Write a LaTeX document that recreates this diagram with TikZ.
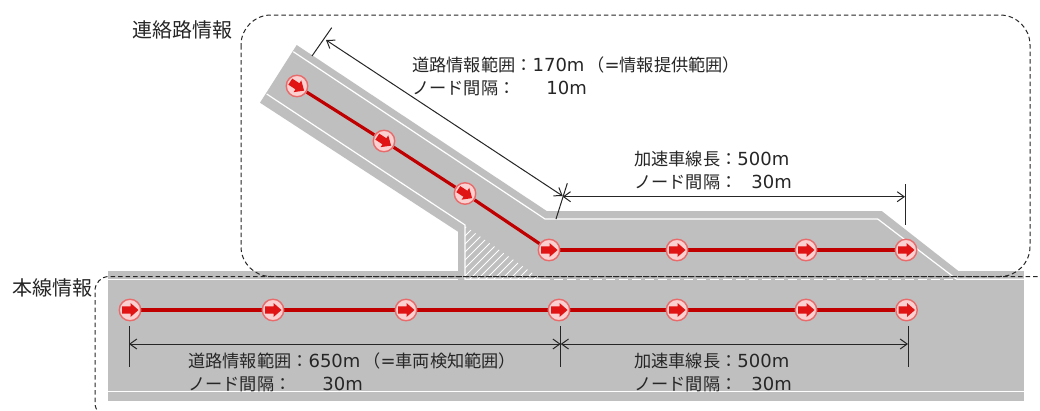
\documentclass[tikz,border=0pt]{standalone}
\usepackage{fontspec}
\setmainfont{Noto Sans CJK JP}
\newfontfamily\latinfont{DejaVu Sans}
\usetikzlibrary{arrows.meta}
\pgfdeclarelayer{baselayer}
\pgfdeclarelayer{midlayer}
\pgfsetlayers{baselayer,midlayer,main}
\definecolor{roadgray}{HTML}{BFBFBF}
\definecolor{dimink}{HTML}{262626}
\definecolor{lineRed}{HTML}{C00000}
\definecolor{ringRed}{HTML}{E96A6A}
\definecolor{ringPink}{HTML}{FBD0D0}
\definecolor{arrowRed}{HTML}{E01414}
\newcommand{\lat}[1]{{\latinfont\fontsize{18pt}{23pt}\selectfont #1}}
\newcommand{\zcolon}{\char"FF1A\relax}
\newcommand{\zlp}{\char"FF08\relax}
\newcommand{\zrp}{\char"FF09\relax}
\tikzset{
  x=1pt,y=-1pt,
  road/.style={fill=roadgray,draw=none},
  edge line/.style={draw=white,line width=1.2pt},
  edge dash/.style={draw=white,line width=1.2pt,dash pattern=on 9pt off 4pt},
  region/.style={draw=black!85,line width=1pt,dash pattern=on 4.5pt off 3pt},
  route/.style={draw=lineRed,line width=3.2pt},
  sensor/.style={circle,draw=ringRed,fill=ringPink,line width=1.4pt,minimum size=21.5pt,inner sep=0pt},
  dimline/.style={draw=dimink,line width=1pt},
  dimarrow/.style={draw=dimink,line width=1pt,{Straight Barb[length=7pt,width=10pt]}-{Straight Barb[length=7pt,width=10pt]}},
  info/.style={anchor=west,align=left,font=\fontsize{17.2pt}{23pt}\selectfont,text=black!85,inner sep=0pt},
  title/.style={anchor=west,font=\fontsize{20pt}{23pt}\selectfont,text=black!85,inner sep=0pt},
}
\newcommand{\sensorat}[4]{%
  \node[sensor] (#1) at (#2,#3) {};
  \fill[arrowRed,shift={(#2,#3)},rotate=#4]
    (-8,-3.6)--(0.5,-3.6)--(0.5,-7)--(8.5,0)--(0.5,7)--(0.5,3.6)--(-8,3.6)--cycle;
}
\begin{document}
\begin{tikzpicture}
\useasboundingbox (0,0) rectangle (1040,410);
\begin{pgfonlayer}{baselayer}
\fill[white] (0,0) rectangle (1040,410);
% road
\fill[road] (108,270.7) rectangle (1024,400.7);
\fill[road] (296.7,45)--(546.7,211)--(881.7,211)--(958,270.7)--(958,280)--(458,280)--(458,231.7)--(260,102.7)--cycle;
% hatch
\begin{scope}
\clip (465,226)--(465,279)--(541,279)--cycle;
\foreach \k in {0,...,24}{
  \draw[white,line width=1pt] (400+8*\k,285)--(400+8*\k+70,215);
}
\end{scope}
% white edge lines
\coordinate (ra) at (293.3,51.7);
\coordinate (rb) at (545,219);
\coordinate (rc) at (877.7,219);
\coordinate (rd) at (956.7,279.3);
\coordinate (re) at (1024,279.3);
\coordinate (rg) at (266.7,94);
\coordinate (rh) at (465,225);
\coordinate (ri) at (465,279.3);
\coordinate (rj) at (541,279.3);
\coordinate (rk) at (108,279.3);
\coordinate (rl) at (458,279.3);
\coordinate (rm) at (108,391.7);
\coordinate (rn) at (1024,391.7);
\draw[edge line] (ra)--(rb)--(rc)--(rd)--(re);
\draw[edge line] (rg)--(rh)--(ri)--(rj);
\draw[edge line] (rk)--(rl);
\draw[edge dash] (rj)--(rd);
\draw[edge line] (rm)--(rn);
\end{pgfonlayer}
% region outlines
\draw[region,rounded corners=30pt] (241,15) rectangle (1030,276.5);
\begin{scope}
\clip (0,0) rectangle (1040,410);
\draw[region,rounded corners=14pt] (1060,276.5)--(95,276.5)--(95,417)--(1060,417);
\end{scope}
% sensors
\sensorat{a1}{297}{86}{-33}
\sensorat{a2}{384}{141}{-33}
\sensorat{a3}{465}{193.5}{-33}
\sensorat{a4}{549}{250}{0}
\sensorat{a5}{677}{250}{0}
\sensorat{a6}{806}{250}{0}
\sensorat{a7}{906}{250}{0}
\sensorat{b1}{130}{310}{0}
\sensorat{b2}{273}{310}{0}
\sensorat{b3}{406}{310}{0}
\sensorat{b4}{559}{310}{0}
\sensorat{b5}{677}{310}{0}
\sensorat{b6}{806}{310}{0}
\sensorat{b7}{906.5}{310}{0}
\begin{pgfonlayer}{midlayer}
\foreach \u/\v in {a1/a2,a2/a3,a3/a4,a4/a5,a5/a6,a6/a7,b1/b2,b2/b3,b3/b4,b4/b5,b5/b6,b6/b7}
  \draw[route] (\u)--(\v);
\end{pgfonlayer}
% dimensions
\coordinate (t1a) at (312,56);\coordinate (t1b) at (331.7,27.7);
\coordinate (t2a) at (556,219);\coordinate (t2b) at (567.3,183.3);
\coordinate (t3a) at (905,184);\coordinate (t3b) at (905,225);
\coordinate (t4a) at (129,326);\coordinate (t4b) at (129,367);
\coordinate (t5a) at (560.7,326);\coordinate (t5b) at (560.7,367);
\coordinate (t6a) at (908,326);\coordinate (t6b) at (908,367);
\foreach \u/\v in {t1a/t1b,t2a/t2b,t3a/t3b,t4a/t4b,t5a/t5b,t6a/t6b}
  \draw[dimline] (\u)--(\v);
\coordinate (d1) at (326,40);\coordinate (d2) at (562.7,196);\coordinate (d2b) at (562.7,196.7);
\coordinate (d3) at (905,196.7);
\coordinate (d4) at (129,344);\coordinate (d5) at (560.7,344);\coordinate (d6) at (908,344);
\draw[dimarrow] (d1)--(d2);
\draw[dimarrow] (d2b)--(d3);
\draw[dimarrow] (d4)--(d5);
\draw[dimarrow] (d5)--(d6);
% text
\node[title] (t1) at (132,30) {連絡路情報};
\node[title] (t2) at (12,288) {本線情報};
\node[info] (l1) at (412,76.5) {道路情報範囲\zcolon\lat{170m}\hspace{3pt}\zlp\lat{=}情報提供範囲\zrp\\ノード間隔\zcolon\hspace{31pt}\lat{10m}};
\node[info] (l2) at (634,170) {加速車線長\zcolon\lat{500m}\\ノード間隔\zcolon\hspace{14pt}\lat{30m}};
\node[info] (l3) at (188,372) {道路情報範囲\zcolon\lat{650m}\hspace{3pt}\zlp\lat{=}車両検知範囲\zrp\\ノード間隔\zcolon\hspace{31pt}\lat{30m}};
\node[info] (l4) at (634,372) {加速車線長\zcolon\lat{500m}\\ノード間隔\zcolon\hspace{14pt}\lat{30m}};
\end{tikzpicture}
\end{document}
